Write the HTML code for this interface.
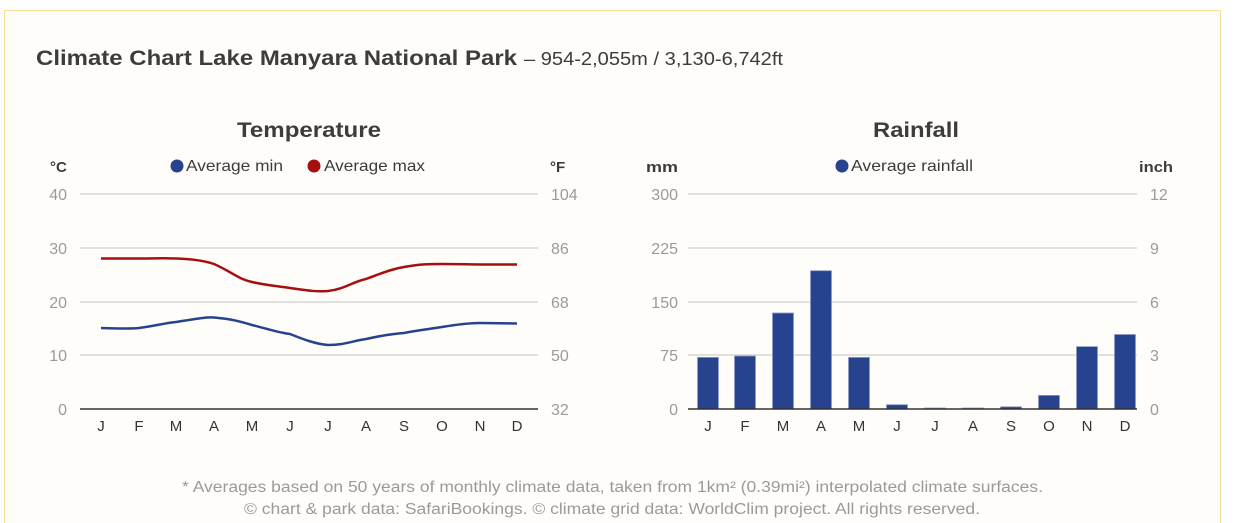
<!DOCTYPE html>
<html><head><style>
body{margin:0;width:1237px;height:523px;background:#fff;overflow:hidden;font-family:"Liberation Sans",sans-serif}
</style></head><body>
<svg width="1237" height="523" xmlns="http://www.w3.org/2000/svg" style="position:absolute;left:0;top:0">
<rect x="4.5" y="10.5" width="1216" height="520" fill="#fffdf9" stroke="#f3dc93"/>
<g font-family="Liberation Sans,sans-serif">
<text x="36" y="65" font-size="21" font-weight="bold" fill="#3c3c3c" textLength="481" lengthAdjust="spacingAndGlyphs">Climate Chart Lake Manyara National Park</text>
<text x="524" y="65" font-size="18" fill="#3c3c3c" textLength="259" lengthAdjust="spacingAndGlyphs">– 954-2,055m / 3,130-6,742ft</text>
<text x="237" y="137" font-size="21" font-weight="bold" fill="#3c3c3c" textLength="144" lengthAdjust="spacingAndGlyphs">Temperature</text>
<text x="873" y="137" font-size="21" font-weight="bold" fill="#3c3c3c" textLength="86" lengthAdjust="spacingAndGlyphs">Rainfall</text>
<text x="50" y="172" font-size="15" font-weight="bold" fill="#3c3c3c">°C</text>
<text x="550" y="172" font-size="15" font-weight="bold" fill="#3c3c3c">°F</text>
<text x="646" y="172" font-size="15" font-weight="bold" fill="#3c3c3c" textLength="32" lengthAdjust="spacingAndGlyphs">mm</text>
<text x="1139" y="172" font-size="15" font-weight="bold" fill="#3c3c3c" textLength="34" lengthAdjust="spacingAndGlyphs">inch</text>
<circle cx="177" cy="166" r="6.5" fill="#27438d"/><text x="186" y="171" font-size="16" fill="#3c3c3c" textLength="97" lengthAdjust="spacingAndGlyphs">Average min</text>
<circle cx="314" cy="166" r="6.5" fill="#a50f0f"/><text x="324" y="171" font-size="16" fill="#3c3c3c" textLength="101" lengthAdjust="spacingAndGlyphs">Average max</text>
<circle cx="842" cy="166" r="6.5" fill="#27438d"/><text x="851" y="171" font-size="16" fill="#3c3c3c" textLength="122" lengthAdjust="spacingAndGlyphs">Average rainfall</text>
<g stroke="#cfcfcf" stroke-width="1.3">
<line x1="80" x2="538" y1="194" y2="194"/><line x1="80" x2="538" y1="248" y2="248"/><line x1="80" x2="538" y1="302" y2="302"/><line x1="80" x2="538" y1="355" y2="355"/>
<line x1="688" x2="1137" y1="194" y2="194"/><line x1="688" x2="1137" y1="248" y2="248"/><line x1="688" x2="1137" y1="302" y2="302"/><line x1="688" x2="1137" y1="355" y2="355"/>
</g>
<g font-size="16" fill="#9a9a9a">
<g text-anchor="end"><text x="67" y="200">40</text><text x="67" y="254">30</text><text x="67" y="308">20</text><text x="67" y="361">10</text><text x="67" y="415">0</text>
<text x="678" y="200">300</text><text x="678" y="254">225</text><text x="678" y="308">150</text><text x="678" y="361">75</text><text x="678" y="415">0</text></g>
<text x="551" y="200">104</text><text x="551" y="254">86</text><text x="551" y="308">68</text><text x="551" y="361">50</text><text x="551" y="415">32</text>
<text x="1150" y="200">12</text><text x="1150" y="254">9</text><text x="1150" y="308">6</text><text x="1150" y="361">3</text><text x="1150" y="415">0</text>
</g>
<g fill="#27438d" stroke="#8f9cc4" stroke-width="0.8">
<rect x="697.5" y="357.4" width="21" height="51.6"/><rect x="734.5" y="356" width="21" height="53"/><rect x="772.5" y="313" width="21" height="96"/><rect x="810.5" y="270.7" width="21" height="138.3"/><rect x="848.5" y="357.4" width="21" height="51.6"/><rect x="886.5" y="404.7" width="21" height="4.3"/><rect x="924.5" y="408" width="21" height="1"/><rect x="962.5" y="408" width="21" height="1"/><rect x="1000.5" y="406.8" width="21" height="2.2"/><rect x="1038.5" y="395.4" width="21" height="13.6"/><rect x="1076.5" y="346.6" width="21" height="62.4"/><rect x="1114.5" y="334.5" width="21" height="74.5"/>
</g>
<line x1="80" x2="538" y1="409" y2="409" stroke="#333" stroke-width="1.5"/>
<line x1="688" x2="1137" y1="409" y2="409" stroke="#333" stroke-width="1.5"/>
<path d="M101,258.5 C120,258.5 139,258.5 139,258.5 C158,258.5 160,258 176,258.5 C195,259 205,261 214,264 C232,272 238,279 252,282 C270,286 278,286 290,288 C305,290 314,292 328,291 C345,289 352,282 366,279 C385,272 392,269 404,267 C420,264 430,264 442,264 C460,264 470,264.5 480,264.5 L517,264.5" fill="none" stroke="#a50f0f" stroke-width="2.5"/>
<path d="M101,328 C120,328.5 130,329 139,328 C155,326 165,323 176,322 C195,319 205,317 214,317.5 C232,319 242,322 252,325 C268,329 280,333 290,334 C305,340 316,344 328,345 C345,345 352,341 366,339 C385,335 392,334 404,333 C420,330 430,329 442,327 C460,324 470,323 480,323 L517,323.5" fill="none" stroke="#27438d" stroke-width="2.5"/>
<g font-size="15" fill="#333" text-anchor="middle">
<text x="101" y="431">J</text><text x="139" y="431">F</text><text x="176" y="431">M</text><text x="214" y="431">A</text><text x="252" y="431">M</text><text x="290" y="431">J</text><text x="328" y="431">J</text><text x="366" y="431">A</text><text x="404" y="431">S</text><text x="442" y="431">O</text><text x="480" y="431">N</text><text x="517" y="431">D</text>
<text x="708" y="431">J</text><text x="745" y="431">F</text><text x="783" y="431">M</text><text x="821" y="431">A</text><text x="859" y="431">M</text><text x="897" y="431">J</text><text x="935" y="431">J</text><text x="973" y="431">A</text><text x="1011" y="431">S</text><text x="1049" y="431">O</text><text x="1087" y="431">N</text><text x="1125" y="431">D</text>
</g>
<g font-size="15.5" fill="#9a9a9a">
<text x="182" y="492" textLength="861" lengthAdjust="spacingAndGlyphs">* Averages based on 50 years of monthly climate data, taken from 1km² (0.39mi²) interpolated climate surfaces.</text>
<text x="244" y="514" textLength="736" lengthAdjust="spacingAndGlyphs">© chart &amp; park data: SafariBookings. © climate grid data: WorldClim project. All rights reserved.</text>
</g>
</g>
</svg>
</body></html>
